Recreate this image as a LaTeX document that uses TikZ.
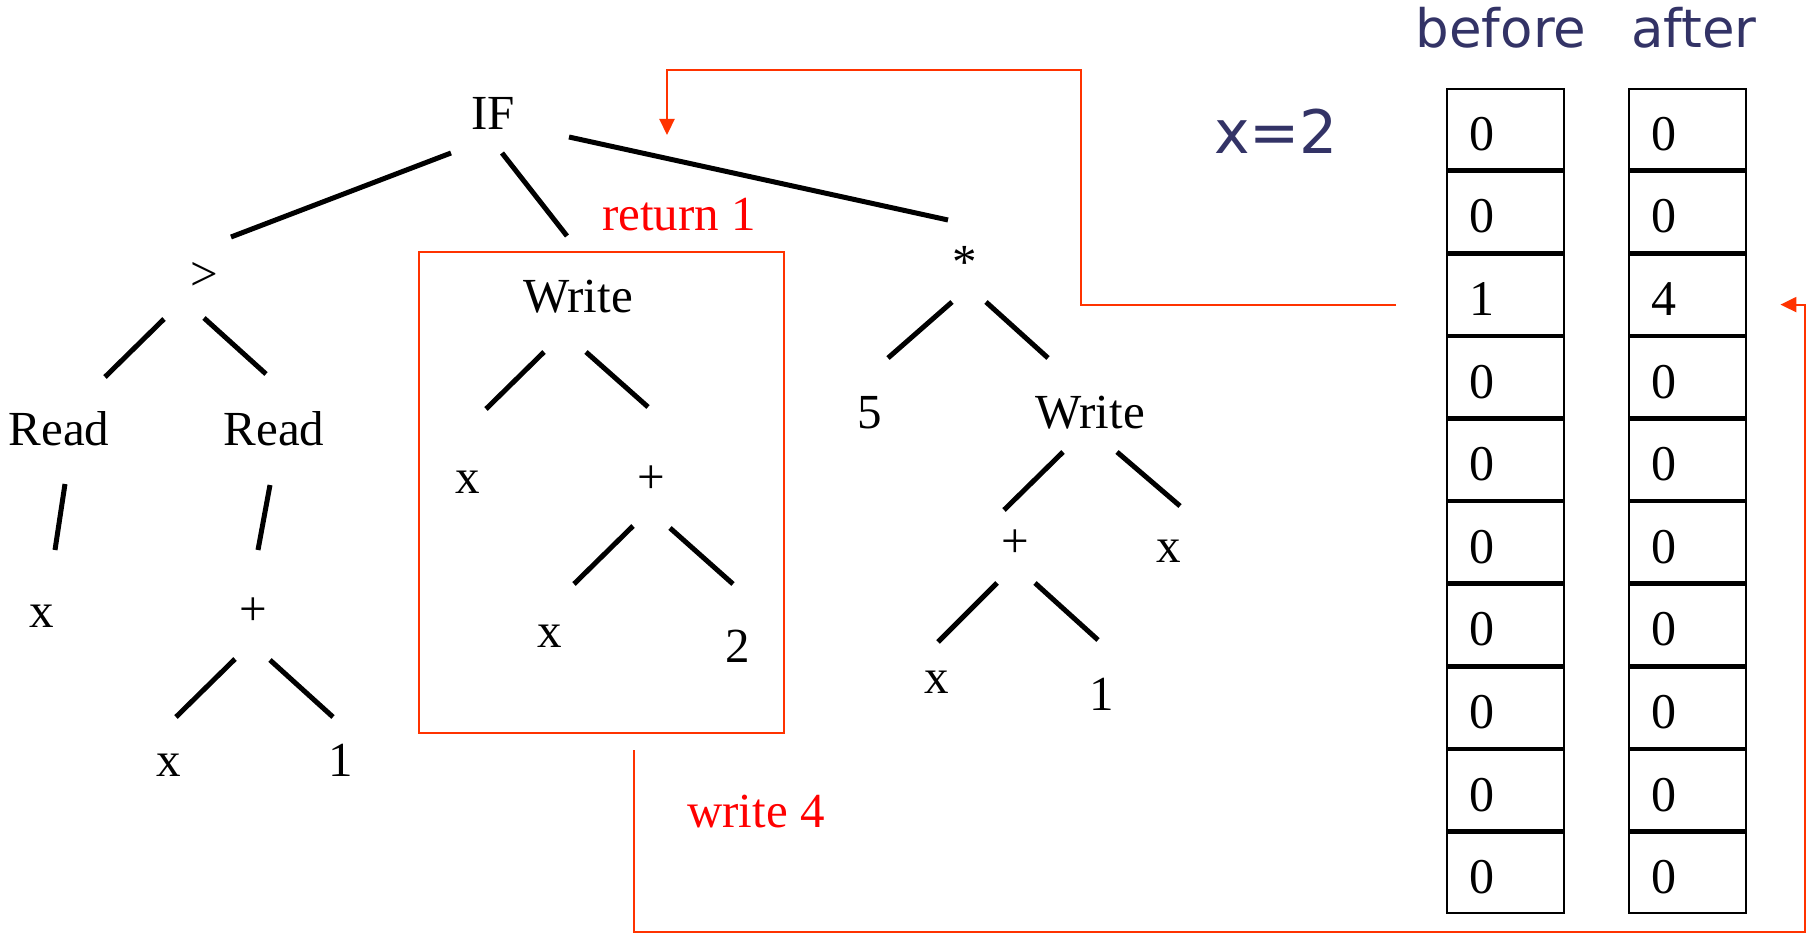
\documentclass[tikz,border=0pt]{standalone}
\usepackage{fontspec}
\setmainfont{Liberation Serif}
\newfontfamily\vrd{DejaVu Sans}
\usetikzlibrary{arrows.meta}
\definecolor{navytxt}{RGB}{51,51,102}
\definecolor{redln}{RGB}{255,51,0}
\definecolor{redtxt}{RGB}{255,0,0}
\tikzset{
  lbl/.style={inner sep=0pt, anchor=base, font=\fontsize{49}{55}\selectfont},
  edge/.style={line width=5pt, black},
  cell/.style={draw, line width=2.4pt, minimum height=80.4pt, inner ysep=0pt, inner xsep=22pt,
    text width=73pt, align=left, text height=41.6pt, text depth=0pt, anchor=north west,
    font=\fontsize{50}{55}\selectfont},
  redarrow/.style={draw=redln, line width=2.2pt, -{Triangle[length=16pt,width=15pt]}},
  redtext/.style={inner sep=0pt, anchor=base, text=redtxt, font=\fontsize{49}{55}\selectfont},
  head/.style={inner sep=0pt, anchor=base, text=navytxt, font=\vrd\fontsize{53}{60}\selectfont},
  redbox/.style={draw=redln, line width=2.2pt, inner sep=0pt, minimum width=365pt, minimum height=481pt},
}
\begin{document}
\begin{tikzpicture}[x=1pt,y=-1pt]
\useasboundingbox (0,0) rectangle (1809,936);
% tree labels
\node[lbl] (IF) at (493,130) {IF};
\node[lbl] (gt) at (204,290) {>};
\node[lbl] (readL) at (59,445) {Read};
\node[lbl] (readR) at (274,445) {Read};
\node[lbl] (xL) at (42,627) {x};
\node[lbl] (plusL) at (253,625) {+};
\node[lbl] (xLL) at (169,776) {x};
\node[lbl] (oneL) at (341,776) {1};
\node[lbl] (writeA) at (578,312) {Write};
\node[lbl] (xA) at (468,493) {x};
\node[lbl] (plusA) at (651,493) {+};
\node[lbl] (xAA) at (550,647) {x};
\node[lbl] (two) at (738,662) {2};
\node[lbl] (star) at (965,278) {*};
\node[lbl] (five) at (870,428) {5};
\node[lbl] (writeB) at (1090,428) {Write};
\node[lbl] (plusB) at (1015,557) {+};
\node[lbl] (xB) at (1169,562) {x};
\node[lbl] (xBB) at (937,693) {x};
\node[lbl] (oneB) at (1102,710) {1};
% tree edges
\draw[edge] ([shift={(-42,23)}]IF.base) -- ([shift={(27,-53)}]gt.base);
\draw[edge] ([shift={(9,23)}]IF.base) -- ([shift={(-11,-76)}]writeA.base);
\draw[edge] ([shift={(76,7)}]IF.base) -- ([shift={(-17,-58)}]star.base);
\draw[edge] ([shift={(-40,29)}]gt.base) -- ([shift={(46,-68)}]readL.base);
\draw[edge] ([shift={(0,28)}]gt.base) -- ([shift={(-8,-71)}]readR.base);
\draw[edge] ([shift={(6,39)}]readL.base) -- ([shift={(13,-77)}]xL.base);
\draw[edge] ([shift={(-4,40)}]readR.base) -- ([shift={(5,-75)}]plusL.base);
\draw[edge] ([shift={(-18,34)}]plusL.base) -- ([shift={(7,-59)}]xLL.base);
\draw[edge] ([shift={(17,35)}]plusL.base) -- ([shift={(-8,-59)}]oneL.base);
\draw[edge] ([shift={(-34,40)}]writeA.base) -- ([shift={(18,-84)}]xA.base);
\draw[edge] ([shift={(8,40)}]writeA.base) -- ([shift={(-3,-86)}]plusA.base);
\draw[edge] ([shift={(-18,33)}]plusA.base) -- ([shift={(24,-63)}]xAA.base);
\draw[edge] ([shift={(19,35)}]plusA.base) -- ([shift={(-5,-78)}]two.base);
\draw[edge] ([shift={(-13,24)}]star.base) -- ([shift={(18,-70)}]five.base);
\draw[edge] ([shift={(21,24)}]star.base) -- ([shift={(-42,-70)}]writeB.base);
\draw[edge] ([shift={(-27,24)}]writeB.base) -- ([shift={(-11,-47)}]plusB.base);
\draw[edge] ([shift={(27,24)}]writeB.base) -- ([shift={(11,-56)}]xB.base);
\draw[edge] ([shift={(-18,26)}]plusB.base) -- ([shift={(1,-51)}]xBB.base);
\draw[edge] ([shift={(20,26)}]plusB.base) -- ([shift={(-4,-70)}]oneB.base);
% red box and labels
\node[redbox] (wbox) at (601.5,492.5) {};
\node[redtext] (ret) at (679,230) {return 1};
\node[redtext] (wr) at (756,827) {write 4};
% memory columns
\node[head] (before) at (1501,48) {before};
\node[head] (after) at (1694,48) {after};
\node[head, font=\vrd\fontsize{60}{66}\selectfont] (xeq) at (1276,154) {x=2};
\foreach \i/\b/\a in {0/0/0,1/0/0,2/1/4,3/0/0,4/0/0,5/0/0,6/0/0,7/0/0,8/0/0,9/0/0}{
  \node[cell] (b\i) at (1446,88+82.6*\i) {\b};
  \node[cell] (a\i) at (1628,88+82.6*\i) {\a};
}
% red connectors
\coordinate (turnA) at (1081,70);
\coordinate (retTip) at (667,135);
\draw[redarrow] ([shift={(-50,10)}]b2.west) -| (turnA) -| (retTip);
\coordinate (turnB) at (1805,932);
\draw[redarrow] ([shift={(32.5,16)}]wbox.south) |- (turnB) |- ([shift={(33,10)}]a2.east);
\end{tikzpicture}
\end{document}
